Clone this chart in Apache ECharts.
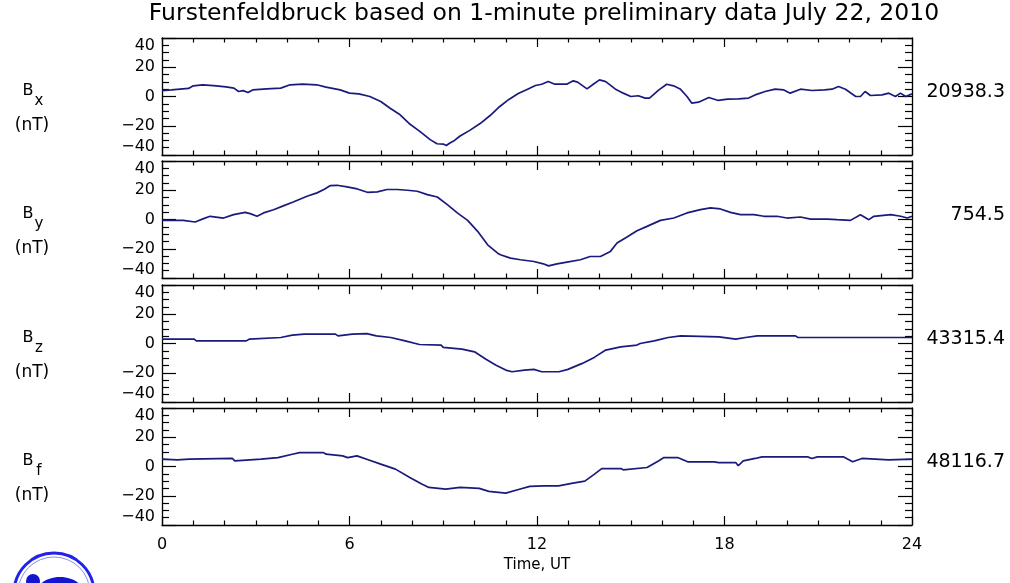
<!DOCTYPE html>
<html><head><meta charset="utf-8">
<script src="https://cdn.jsdelivr.net/npm/echarts@6/dist/echarts.min.js"></script>
<style>html,body{margin:0;padding:0;background:#fff}#c{width:1010px;height:583px}</style>
</head><body><div id="c"></div>
<script>
const titleText = 'Furstenfeldbruck based on 1-minute preliminary data July 22, 2010';
const xAxisName = 'Time, UT';
const components = ['x', 'y', 'z', 'f'];
const baselines = ['20938.3', '754.5', '43315.4', '48116.7'];
const unitLabel = '(nT)';

const bxHours = [0,0.3,0.85,1.0,1.3,1.65,2.05,2.3,2.45,2.6,2.75,2.9,3.35,3.8,4.1,4.5,4.95,5.25,5.7,6.0,6.3,6.65,7.0,7.3,7.62,7.94,8.26,8.58,8.8,9.0,9.1,9.2,9.33,9.54,9.86,10.18,10.5,10.8,11.1,11.4,11.7,11.95,12.15,12.36,12.57,12.95,13.16,13.3,13.6,13.8,14.0,14.2,14.5,14.76,15.0,15.24,15.46,15.6,15.9,16.15,16.37,16.58,16.8,16.95,17.17,17.5,17.8,18.1,18.45,18.77,18.98,19.3,19.62,19.9,20.1,20.43,20.8,21.2,21.44,21.65,21.87,22.2,22.35,22.5,22.67,23.04,23.26,23.47,23.63,23.8,24];
const bxValues = [4,4.5,5.5,7.3,8,7.5,6.6,5.7,3.4,4,2.7,4.5,5.2,5.7,8,8.4,8,6.4,4.5,2.3,1.8,0,-3.4,-8,-12.5,-19,-24,-29.5,-32.3,-32.5,-33.5,-32,-30.5,-27,-23,-18.5,-13,-7,-2,2,5,7.5,8.4,10.2,8.4,8.4,10.7,9.8,5.2,8.4,11.4,10.2,5.2,2.3,0,0.5,-1.1,-1.1,4.5,8.4,7.3,5.2,0,-4.5,-3.9,-0.7,-2.7,-1.8,-1.6,-1.1,1.1,3.4,5,4.5,2.3,5,4.1,4.5,5,6.8,5,0,0,3.4,0.7,1.1,2.3,0,2.3,0,1.8];

const byHours = [0,0.26,0.68,1.06,1.33,1.54,1.97,2.29,2.66,2.82,3.04,3.25,3.57,3.9,4.2,4.64,4.96,5.18,5.39,5.6,5.92,6.25,6.57,6.89,7.2,7.53,7.85,8.17,8.49,8.81,9.13,9.45,9.78,10.1,10.42,10.74,10.83,11.15,11.47,11.9,12.2,12.37,12.64,12.96,13.39,13.7,14.03,14.35,14.56,14.88,15.2,15.52,15.95,16.38,16.8,17.23,17.55,17.87,18.19,18.51,18.94,19.26,19.68,20.0,20.43,20.75,21.28,21.6,22.03,22.35,22.62,22.78,23.32,23.64,23.85,24];
const byValues = [-0.6,-0.6,-0.6,-1.7,0.6,2.2,1,3.3,4.9,4,2.2,4.5,6.7,9.5,12,15.9,18.2,20.5,23.2,23.4,22.3,20.9,18.6,18.9,20.5,20.5,20,19.3,17,15.4,10.2,4.5,-0.6,-8.1,-17.3,-23,-24.1,-26.4,-27.5,-28.7,-30.3,-31.7,-30.3,-29.1,-27.5,-25.3,-25.3,-21.8,-16.1,-12,-7.7,-4.7,-0.6,1,4.5,6.7,7.9,7.2,4.9,3.3,3.3,2.2,2.2,1,1.7,0.3,0.3,-0.1,-0.6,3.3,-0.1,2.2,3.3,2.2,1,2.2];

const bzHours = [0,1.03,1.1,2.7,2.8,3.8,4.17,4.55,5.55,5.63,6.09,6.55,6.86,7.32,7.78,8.24,8.93,9.0,9.6,10.0,10.38,10.69,11.0,11.2,11.6,11.9,12.15,12.7,12.99,13.45,13.83,14.2,14.68,15.2,15.3,15.75,16.2,16.6,17.82,18.36,18.67,19.05,20.27,20.35,24];
const bzValues = [3,3,1.8,1.8,3,4.1,5.7,6.4,6.4,5.2,6.4,6.8,5.2,4.1,1.8,-0.7,-1.1,-2.7,-3.9,-5.7,-10.9,-14.8,-18.2,-19.3,-18.2,-17.7,-19.3,-19.3,-17.7,-13.6,-9.5,-4.5,-2.3,-1.1,0,1.8,4.1,5.2,4.5,3,4.1,5.2,5.2,4.1,4.1];

const bfHours = [0,0.49,0.87,2.25,2.33,3.17,3.71,4.17,4.4,5.17,5.25,5.78,5.94,6.24,6.55,7.0,7.47,7.93,8.31,8.54,9.08,9.54,10.15,10.46,11.0,11.38,11.77,12.23,12.69,13.15,13.53,13.84,14.07,14.68,14.76,15.52,15.9,16.06,16.5,16.82,17.66,17.82,18.36,18.44,18.6,18.98,19.2,20.66,20.8,20.97,21.8,22.1,22.4,23.25,24];
const bfValues = [5,4.5,5,5.5,3.9,5,6.1,8.4,9.5,9.5,8.4,7.3,6.1,7.3,5,1.6,-1.8,-7.5,-12,-14.3,-15.5,-14.3,-15,-17,-18.2,-15.9,-13.6,-13.2,-13.2,-11.4,-10,-5.2,-1.4,-1.4,-2.3,-0.7,3.9,6.1,6.1,3.2,3.2,2.7,2.7,0.5,3.9,5.5,6.6,6.6,5.5,6.6,6.6,3.2,5.5,4.5,5];

const seriesHours = [bxHours, byHours, bzHours, bfHours];
const seriesValues = [bxValues, byValues, bzValues, bfValues];

const FONT = 'DejaVu Sans';
const LINE = '#1a1a7c';
const tops = [38, 161, 285, 408];
const PH = 117, PL = 162, PW = 750;

const grids = [], xAxes = [], yAxes = [], series = [], graphics = [];
tops.forEach((top, i) => {
  grids.push({left: PL, top: top, width: PW, height: PH, show: false});
  const isLast = i === tops.length - 1;
  const xBase = {
    type: 'value', gridIndex: i, min: 0, max: 24, interval: 6,
    axisLine: {show: true, onZero: false, lineStyle: {color: '#000', width: 1.3}},
    axisTick: {show: true, inside: true, length: 9, lineStyle: {color: '#000', width: 1.2}},
    minorTick: {show: true, splitNumber: 6, length: 4.5, lineStyle: {color: '#000', width: 1.2}},
    splitLine: {show: false}, minorSplitLine: {show: false}
  };
  xAxes.push(Object.assign({}, xBase, {
    position: 'bottom',
    axisLabel: {show: isLast, color: '#000', fontFamily: FONT, fontSize: 16, margin: 12},
    name: isLast ? xAxisName : '', nameLocation: 'middle', nameGap: 33,
    nameTextStyle: {color: '#000', fontFamily: FONT, fontSize: 15}
  }));
  xAxes.push(Object.assign({}, xBase, {position: 'top', axisLabel: {show: false}}));
  const yBase = {
    type: 'value', gridIndex: i, min: -40, max: 40, interval: 20,
    axisLine: {show: true, onZero: false, lineStyle: {color: '#000', width: 1.3}},
    axisTick: {show: true, inside: true, length: 14, lineStyle: {color: '#000', width: 1.2}},
    minorTick: {show: true, splitNumber: 4, length: 7, lineStyle: {color: '#000', width: 1.2}},
    splitLine: {show: false}, minorSplitLine: {show: false}
  };
  yAxes.push(Object.assign({}, yBase, {
    position: 'left',
    axisLabel: {show: true, color: '#000', fontFamily: FONT, fontSize: 16, margin: 7,
      verticalAlignMaxLabel: 'top', verticalAlignMinLabel: 'bottom',
      formatter: v => String(v).replace('-', '\u2212')}
  }));
  yAxes.push(Object.assign({}, yBase, {position: 'right', axisLabel: {show: false}}));
  series.push({
    type: 'line', xAxisIndex: 2 * i, yAxisIndex: 2 * i,
    data: seriesHours[i].map((h, k) => [h, seriesValues[i][k]]),
    showSymbol: false, symbol: 'none', animation: false,
    lineStyle: {color: LINE, width: 1.7}, clip: true
  });
  graphics.push({type: 'text', x: 28, y: top + 53, style: {text: 'B', fill: '#000', font: '16px "DejaVu Sans"', textAlign: 'center', textVerticalAlign: 'middle'}});
  graphics.push({type: 'text', x: 39, y: top + 63, style: {text: components[i], fill: '#000', font: '15px "DejaVu Sans"', textAlign: 'center', textVerticalAlign: 'middle'}});
  graphics.push({type: 'text', x: 32, y: top + 88, style: {text: unitLabel, fill: '#000', font: '17px "DejaVu Sans"', textAlign: 'center', textVerticalAlign: 'middle'}});
  graphics.push({type: 'text', x: 1005, y: top + 54, style: {text: baselines[i], fill: '#000', font: '19px "DejaVu Sans"', textAlign: 'right', textVerticalAlign: 'middle'}});
});

// logo (partially visible at the bottom-left corner)
graphics.push({type: 'circle', shape: {cx: 54, cy: 593, r: 40}, style: {fill: 'none', stroke: '#2323e6', lineWidth: 3}});
graphics.push({type: 'circle', shape: {cx: 54, cy: 593, r: 36}, style: {fill: 'none', stroke: '#8c8cf2', lineWidth: 1}});
graphics.push({type: 'circle', shape: {cx: 33, cy: 581, r: 7}, style: {fill: '#1515d0'}});
graphics.push({type: 'ellipse', shape: {cx: 60, cy: 592, rx: 23, ry: 15}, style: {fill: '#1515d0'}});

const chart = echarts.init(document.getElementById('c'), null, {renderer: 'canvas'});
chart.setOption({
  backgroundColor: '#fff',
  animation: false,
  title: {text: titleText, left: 542, top: 0, padding: 2, textAlign: 'center',
    textStyle: {color: '#000', fontFamily: FONT, fontSize: 23.5, fontWeight: 'normal'}},
  grid: grids, xAxis: xAxes, yAxis: yAxes, series: series, graphic: graphics
});
</script></body></html>
